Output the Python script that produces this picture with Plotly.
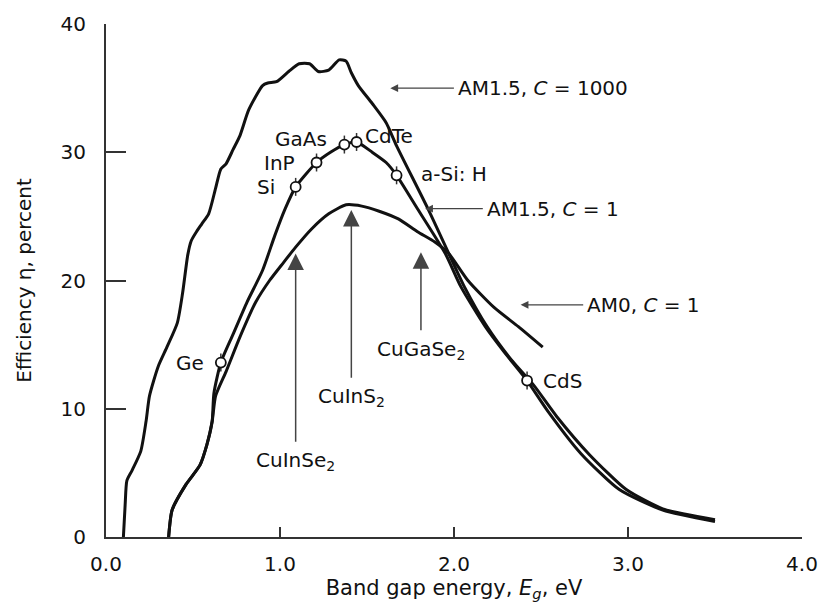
import plotly.graph_objects as go

# ---------------- data ----------------
E_c1000 = [0.10, 0.11, 0.12, 0.15, 0.20, 0.23, 0.25, 0.30, 0.35, 0.41, 0.44, 0.47, 0.49, 0.52,
           0.55, 0.59, 0.63, 0.66, 0.69, 0.73, 0.77, 0.82, 0.90, 0.93, 0.98, 1.05, 1.11, 1.17,
           1.22, 1.28, 1.34, 1.38, 1.41, 1.45, 1.53, 1.61, 1.67, 1.85, 1.97, 2.06, 2.19, 2.33,
           2.46, 2.59, 2.78, 2.99, 3.20, 3.50]
eta_c1000 = [0.0, 2.5, 4.4, 5.2, 6.7, 9.0, 11.0, 13.3, 14.8, 16.7, 19.0, 22.0, 23.1, 23.8,
             24.4, 25.2, 27.2, 28.7, 29.1, 30.2, 31.3, 33.3, 35.2, 35.4, 35.5, 36.3, 36.9, 36.9,
             36.3, 36.4, 37.2, 37.1, 36.2, 35.2, 33.8, 32.3, 30.5, 25.6, 22.1, 19.5, 16.4, 13.8,
             11.8, 9.4, 6.4, 3.7, 2.2, 1.35]

E_am15 = [0.36, 0.38, 0.46, 0.54, 0.58, 0.61, 0.62, 0.66, 0.73, 0.81, 0.90, 0.97, 1.03, 1.09,
          1.21, 1.29, 1.37, 1.44, 1.53, 1.61, 1.67, 1.79, 1.95, 2.04, 2.18, 2.29, 2.42, 2.54,
          2.73, 2.95, 3.20, 3.50]
eta_am15 = [0.0, 2.1, 4.1, 5.6, 7.2, 9.0, 11.2, 13.6, 15.8, 18.3, 20.8, 23.5, 25.6, 27.3,
            29.2, 30.0, 30.6, 30.8, 30.0, 29.2, 28.2, 25.6, 22.1, 19.5, 16.4, 14.4, 12.2, 9.8,
            6.5, 3.7, 2.1, 1.2]

E_am0 = [0.36, 0.38, 0.46, 0.54, 0.58, 0.61, 0.63, 0.69, 0.77, 0.86, 0.94, 1.02, 1.09, 1.18,
         1.28, 1.38, 1.47, 1.57, 1.68, 1.79, 1.89, 1.97, 2.08, 2.23, 2.37, 2.51]
eta_am0 = [0.0, 2.1, 4.1, 5.6, 7.2, 9.0, 11.0, 12.9, 15.6, 18.3, 20.0, 21.4, 22.6, 24.0,
           25.2, 25.9, 25.8, 25.4, 24.8, 23.8, 23.0, 22.1, 20.0, 17.9, 16.4, 14.8]

materials = ["Ge", "Si", "InP", "GaAs", "CdTe", "a-Si: H", "CdS"]
mat_E = [0.66, 1.09, 1.21, 1.37, 1.44, 1.67, 2.42]
mat_eta = [13.6, 27.3, 29.2, 30.6, 30.8, 28.2, 12.2]

alloys = ["CuInSe<sub>2</sub>", "CuInS<sub>2</sub>", "CuGaSe<sub>2</sub>"]
alloy_E = [1.09, 1.41, 1.81]
alloy_eta = [22.1, 25.5, 22.2]

curve_labels = ["AM1.5, <i>C</i> = 1000", "AM1.5, <i>C</i> = 1", "AM0, <i>C</i> = 1"]
curve_point_E = [1.634, 1.834, 2.383]
curve_point_eta = [35.0, 25.6, 18.1]

x_ticks = [0.0, 1.0, 2.0, 3.0, 4.0]
y_ticks = [0, 10, 20, 30, 40]

# ---------------- figure ----------------
FONT = "DejaVu Sans"
INK = "#111111"
ARROW = "#444444"
fig = go.Figure()

for E, eta in [(E_c1000, eta_c1000), (E_am15, eta_am15), (E_am0, eta_am0)]:
    fig.add_trace(go.Scatter(x=E, y=eta, mode="lines",
                             line=dict(color=INK, width=3, shape="spline", smoothing=0.6),
                             hoverinfo="skip", showlegend=False))

fig.add_trace(go.Scatter(x=mat_E, y=mat_eta, mode="markers",
                         marker=dict(symbol="circle", size=10, color="white",
                                     line=dict(color=INK, width=1.8)),
                         error_y=dict(type="constant", value=0.7, width=0, thickness=1.5,
                                      color="#333"),
                         showlegend=False, hoverinfo="skip"))

ann = []
# material labels
mat_pos = [(0.577, 13.6, "right"), (0.983, 27.3, "right"), (1.097, 29.2, "right"),
           (1.28, 31.0, "right"), (1.475, 31.3, "left"), (1.80, 28.3, "left"),
           (2.50, 12.15, "left")]
for name, (x, y, anc) in zip(materials, mat_pos):
    ann.append(dict(x=x, y=y, text=name, showarrow=False, xanchor=anc, yanchor="middle",
                    font=dict(family=FONT, size=20, color=INK)))

# alloy labels with vertical arrows
alloy_text_eta = [5.9, 10.9, 14.6]
for name, x, y, ty in zip(alloys, alloy_E, alloy_eta, alloy_text_eta):
    ann.append(dict(x=x, y=y, ax=x, ay=ty, axref="x", ayref="y", text=name,
                    xanchor="center", yanchor="middle",
                    showarrow=True, arrowhead=2, arrowsize=2.2, arrowwidth=1.5,
                    arrowcolor=ARROW, startstandoff=5,
                    font=dict(family=FONT, size=20, color=INK)))

# curve labels with horizontal arrows
curve_text_E = [2.011, 2.177, 2.754]
for name, hx, y, tx in zip(curve_labels, curve_point_E, curve_point_eta, curve_text_E):
    ann.append(dict(x=hx, y=y, ax=tx, ay=y, axref="x", ayref="y", text=name,
                    xanchor="left", yanchor="middle",
                    showarrow=True, arrowhead=2, arrowsize=1.2, arrowwidth=1.3,
                    arrowcolor=ARROW, startstandoff=2,
                    font=dict(family=FONT, size=20, color=INK)))

fig.update_layout(
    width=830, height=607,
    margin=dict(l=106, r=23, t=20, b=67),
    paper_bgcolor="white", plot_bgcolor="white",
    font=dict(family=FONT, color=INK),
    annotations=ann,
    xaxis=dict(range=[0, 4], tickvals=x_ticks, tickformat=".1f",
               showgrid=False, zeroline=False, showline=True, linecolor="#333",
               linewidth=2, ticks="inside", ticklen=10, tickwidth=1.5, tickcolor="#333",
               tickfont=dict(family=FONT, size=20, color=INK), ticklabelstandoff=8,
               title=dict(text="Band gap energy, <i>E<sub>g</sub></i>, eV",
                          font=dict(family=FONT, size=21, color=INK), standoff=4)),
    yaxis=dict(range=[0, 40], tickvals=y_ticks,
               showgrid=False, zeroline=False, showline=True, linecolor="#333",
               linewidth=2, ticks="inside", ticklen=20, tickwidth=1.5, tickcolor="#333",
               tickfont=dict(family=FONT, size=20, color=INK), ticklabelstandoff=14,
               title=dict(text="Efficiency η, percent",
                          font=dict(family=FONT, size=20, color=INK), standoff=24)),
)

fig.write_html("out.html")
